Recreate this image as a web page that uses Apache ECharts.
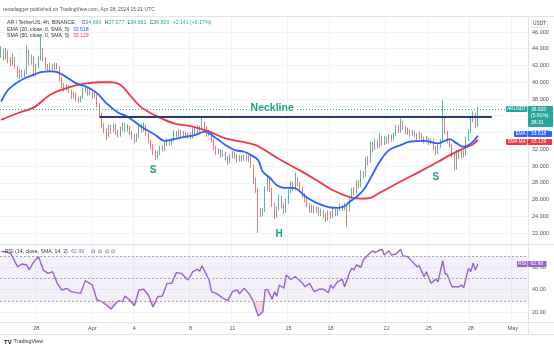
<!DOCTYPE html>
<html><head><meta charset="utf-8">
<script src="https://cdn.jsdelivr.net/npm/echarts@6/dist/echarts.min.js"></script>
<style>html,body{margin:0;padding:0;background:#fff}#c{width:554px;height:349px}</style>
</head><body><div id="c"></div>
<script>
// ---- data ----
const tickIdx  = [15, 39, 57, 81, 99, 123, 141, 165, 183, 201, 219];
const tickText = ['28', 'Apr', '4', '8', '11', '15', '18', '22', '25', '28', 'May'];
const priceTicks = [22, 24, 26, 28, 30, 32, 34, 36, 38, 40, 42, 44, 46];
const rsiTicks = [20, 40, 60];

const opens = [43.2,43.8,42.9,43.6,42.6,42.2,42.8,41.8,40.9,41.3,40.8,41.2,43.6,42.4,42.9,40.8,41.9,42.8,43.8,42.7,
41.9,41.5,42.0,41.6,42.1,41.7,40.4,39.6,39.2,39.5,38.9,38.3,38.6,38.0,37.8,38.2,39.0,39.1,38.6,38.9,
38.3,38.5,37.3,36.2,34.8,34.2,33.6,34.6,34.2,34.8,34.0,33.7,34.4,34.9,34.3,34.6,34.0,33.5,33.1,33.6,
34.8,34.3,34.9,33.8,33.0,32.4,31.6,31.1,31.5,32.2,31.9,32.6,33.0,32.7,33.1,34.0,33.7,34.1,33.6,33.9,
33.5,33.8,33.4,34.2,33.9,34.6,34.4,35.1,34.5,33.8,34.0,33.0,32.1,31.6,31.9,31.3,31.6,31.0,30.5,31.2,
31.5,31.2,30.7,31.1,30.8,31.2,30.9,31.1,30.0,28.2,27.2,24.6,24.3,24.7,27.3,28.2,27.2,25.4,24.0,24.9,
26.2,25.3,24.6,25.7,26.9,27.8,27.3,28.3,27.9,27.3,26.5,26.0,25.4,24.7,25.1,24.6,24.9,24.3,24.6,24.1,
23.8,24.4,24.0,24.6,24.2,24.8,25.2,24.9,25.3,24.6,26.2,27.1,26.8,28.0,27.6,29.2,28.8,30.9,30.5,32.6,
32.1,32.9,32.4,33.4,32.7,33.3,32.9,33.5,33.2,33.8,34.6,34.2,35.1,34.6,34.0,34.3,33.8,34.1,33.7,33.4,
33.8,33.3,33.0,33.3,32.8,33.1,32.2,31.6,32.4,32.9,35.6,34.0,33.0,32.4,31.3,30.9,31.6,31.1,31.7,31.3,
33.2,34.1,35.5,36.2,34.69];
const closes = [43.8,42.9,43.6,42.6,42.2,42.8,41.8,40.9,41.3,40.8,41.2,43.6,42.4,42.9,40.8,41.9,42.8,43.8,42.7,41.9,
41.5,42.0,41.6,42.1,41.7,40.4,39.6,39.2,39.5,38.9,38.3,38.6,38.0,37.8,38.2,39.0,39.1,38.6,38.9,38.3,
38.5,37.3,36.2,34.8,34.2,33.6,34.6,34.2,34.8,34.0,33.7,34.4,34.9,34.3,34.6,34.0,33.5,33.1,33.6,34.8,
34.3,34.9,33.8,33.0,32.4,31.6,31.1,31.5,32.2,31.9,32.6,33.0,32.7,33.1,34.0,33.7,34.1,33.6,33.9,33.5,
33.8,33.4,34.2,33.9,34.6,34.4,35.1,34.5,33.8,34.0,33.0,32.1,31.6,31.9,31.3,31.6,31.0,30.5,31.2,31.5,
31.2,30.7,31.1,30.8,31.2,30.9,31.1,30.0,28.2,27.2,24.6,24.3,24.7,27.3,28.2,27.2,25.4,24.0,24.9,26.2,
25.3,24.6,25.7,26.9,27.8,27.3,28.3,27.9,27.3,26.5,26.0,25.4,24.7,25.1,24.6,24.9,24.3,24.6,24.1,23.8,
24.4,24.0,24.6,24.2,24.8,25.2,24.9,25.3,24.6,26.2,27.1,26.8,28.0,27.6,29.2,28.8,30.9,30.5,32.6,32.1,
32.9,32.4,33.4,32.7,33.3,32.9,33.5,33.2,33.8,34.6,34.2,35.1,34.6,34.0,34.3,33.8,34.1,33.7,33.4,33.8,
33.3,33.0,33.3,32.8,33.1,32.2,31.6,32.4,32.9,35.6,34.0,33.0,32.4,31.3,30.9,31.6,31.1,31.7,31.3,33.2,
34.1,35.5,36.2,34.679,36.82];
const highs = [44.3,44.0,44.1,43.8,43.0,43.4,43.0,42.0,41.6,41.5,41.5,44.4,43.9,43.3,43.1,42.2,43.1,45.4,44.1,43.0,
42.2,42.3,42.2,42.4,42.3,41.9,40.6,39.9,39.8,39.7,39.1,38.9,38.8,38.3,38.4,39.4,39.5,39.3,39.2,39.0,
38.8,38.6,37.5,36.4,35.1,34.5,35.0,34.9,35.1,35.0,34.3,34.7,35.2,35.1,35.0,34.8,34.2,33.8,33.9,35.1,
35.0,35.2,35.0,34.0,33.2,32.6,31.9,31.8,32.4,32.5,32.9,33.3,33.2,33.4,34.3,34.2,34.4,34.3,34.2,34.1,
34.0,34.0,34.5,34.6,34.9,34.8,35.9,35.3,34.7,34.3,34.1,33.2,32.4,32.1,32.0,31.9,31.7,31.2,31.4,31.8,
31.7,31.4,31.3,31.3,31.4,31.4,31.3,31.2,30.2,28.6,27.4,25.0,25.0,27.6,28.9,28.5,27.4,25.6,25.2,26.6,
26.4,25.6,26.1,27.2,28.2,28.1,29.2,28.7,28.1,27.5,26.8,26.2,25.6,25.4,25.3,25.2,25.1,24.9,24.8,24.4,
24.7,24.6,25.0,24.9,25.1,25.5,25.4,25.6,25.4,26.5,27.4,27.5,28.3,28.3,29.5,29.4,31.1,31.2,32.9,32.9,
33.2,33.2,33.9,33.6,33.6,33.5,33.8,33.7,34.0,34.9,34.9,35.7,35.4,34.8,34.6,34.4,34.3,34.2,33.9,34.1,
33.9,33.5,33.6,33.4,33.3,33.2,32.4,32.6,33.2,37.9,35.9,34.2,33.3,32.6,31.6,31.9,31.8,32.0,31.9,33.5,
34.4,35.9,36.5,36.4,37.077];
const lows = [42.9,42.6,42.7,42.3,41.9,42.0,41.6,40.6,40.4,40.5,40.6,41.0,42.0,42.1,40.6,40.7,41.7,42.6,42.5,41.5,
41.2,41.3,41.3,41.4,41.5,40.1,39.3,38.9,39.0,38.7,38.0,38.1,37.7,37.5,37.6,38.0,38.7,38.4,38.4,38.0,
38.1,37.0,35.9,34.5,33.9,33.1,33.4,33.8,34.0,33.7,33.4,33.5,34.2,34.0,34.1,33.7,33.2,32.7,32.9,33.4,
34.0,34.1,33.6,32.7,32.0,31.3,30.7,30.9,31.3,31.7,31.8,32.4,32.4,32.5,32.9,33.4,33.5,33.4,33.4,33.3,
33.2,33.2,33.3,33.7,33.8,34.1,34.3,34.2,33.5,33.6,32.8,31.9,31.3,31.4,31.0,31.1,30.7,30.1,30.3,30.9,
30.9,30.4,30.5,30.5,30.6,30.6,30.5,29.8,27.8,26.8,22.0,23.9,24.0,24.5,27.0,26.9,25.1,23.6,23.8,24.7,
24.9,24.3,24.4,25.5,26.7,27.0,27.1,27.6,27.0,26.2,25.7,25.1,24.4,24.4,24.3,24.4,24.0,24.0,23.8,23.3,
23.5,23.7,23.8,24.0,24.0,24.6,24.6,24.7,22.7,24.5,26.0,26.5,26.7,27.3,27.5,28.5,28.7,30.1,30.4,31.6,
31.9,32.1,32.2,32.4,32.5,32.6,32.7,32.9,33.0,33.6,33.9,34.0,34.3,33.8,33.7,33.5,33.6,33.4,33.1,33.2,
33.0,32.7,32.8,32.5,32.6,31.9,31.3,31.4,32.2,32.8,33.8,32.7,32.2,31.0,29.5,29.6,30.8,30.9,31.0,31.2,
33.0,33.9,35.2,34.5,34.661];

// EMA(20) and SMA(50) at candle indices
const emaIdx = [0,3,7,11,14,17,21,24,28,32,37,41,45,50,54,60,66,70,74,79,83,87,92,96,100,104,107,110,112,115,118,121,125,131,135,140,144,147,149,152,155,158,162,166,171,175,181,187,192,195,198,200,202,204];
const emaVal = [37.7,39.1,40.0,40.6,40.9,41.2,41.3,41.2,40.6,39.9,39.4,38.7,37.5,36.4,35.9,34.7,33.7,33.0,33.2,33.5,33.7,34.1,33.3,32.5,31.9,31.7,31.3,30.7,29.3,28.6,27.7,27.4,27.4,26.2,25.6,25.1,25.0,25.2,25.7,26.3,27.1,28.5,30.5,31.9,32.5,32.9,33.0,32.7,33.2,32.7,32.3,32.5,32.9,33.618];
const smaIdx = [0,7,14,21,28,35,42,47,51,55,60,67,74,82,89,96,103,109,111,121,129,135,142,149,154,158,162,172,179,187,192,198,202,204];
const smaVal = [35.5,36.3,37.0,38.5,39.3,39.8,40.0,40.0,39.7,38.5,37.0,35.9,35.1,34.7,34.1,33.3,32.9,32.5,32.2,30.5,29.3,28.3,27.1,26.3,26.1,26.2,26.8,28.3,29.3,30.5,31.3,32.1,32.6,33.129];

// RSI(14) at candle indices
const rsiIdx = [0,2,4,7,9,11,12,14,16,18,20,22,24,26,28,30,34,36,39,41,43,45,47,50,52,53,55,57,59,61,63,65,67,69,71,73,75,77,80,81,82,84,85,86,89,90,92,95,97,99,101,102,104,106,108,110,112,113,114,116,117,118,119,121,122,124,126,129,130,132,134,136,138,140,141,142,144,146,147,149,150,151,152,154,155,157,159,160,162,163,164,166,167,169,171,172,174,176,178,179,181,182,184,186,187,189,190,191,193,196,197,198,200,201,202,203,204];
const rsiVal = [74,73.8,72.4,60.5,62.9,62,57.6,65,69.4,57.6,54.6,56,45.7,39.8,41.3,38.3,36.8,48.1,44.2,30.9,29.4,26.4,22.9,30,29.4,34.4,30.9,25.8,39.8,40.4,35.3,24.7,33.8,34.4,45.7,45.7,55.2,54.6,48.7,52.2,56.1,58.1,56.4,61.1,48.7,38.3,36.8,32.4,30.3,38.3,39.8,36.3,41.3,36.8,29.4,16.7,20.5,39.8,40.4,31.5,38.3,34.4,44.2,41.3,53.1,49.3,51.6,45.7,42.7,45.7,38.3,40.4,40.4,37.4,44.2,41.3,47.2,49.3,42.7,54.6,59,57.6,62,60,66.4,70.9,74.7,73,75.3,75.9,70.9,74.7,70.9,71.8,75.9,70,69.4,65,60.5,61.1,51.6,56,45.7,49.3,47.2,65.8,54.6,53.1,42.7,42.7,44.2,41.9,59,56.1,63.5,57.6,62.99];

const necklinePrice = 35.9;
const necklineFrom = 42, necklineTo = 210;
const marks = [{t:'Neckline', i:116, p:36.93, size:10.5}, {t:'S', i:65, p:29.5, size:10}, {t:'H', i:119, p:21.8, size:10}, {t:'S', i:186, p:28.7, size:10}];

// ---- build ----
const slots = 226;
const t0 = Date.UTC(2024, 2, 25, 12);
const categories = Array.from({length: slots}, (_, i) => new Date(t0 + i * 4 * 3600e3).toISOString().slice(5, 16));
const candles = opens.map((o, i) => [o, closes[i], lows[i], highs[i]]);
const pairs = (ix, vs) => ix.map((x, k) => [x, vs[k]]);
const rsiPts = pairs(rsiIdx, rsiVal);

const UP = '#26a69a', DN = '#ef5350', FONT = 'Liberation Sans, Arial, sans-serif';
const gridCol = '#f0f3fa', lblCol = '#50535e';
const last = opens.length - 1;
const lastClose = closes[last], prevClose = closes[last - 1];
const chg = lastClose - prevClose;

const chart = echarts.init(document.getElementById('c'), null, {renderer: 'canvas'});
const catAxis = (g, labels) => ({
  type: 'category', gridIndex: g, data: categories, boundaryGap: true,
  axisLine: {show: false}, axisTick: {show: false},
  axisLabel: labels ? {
    show: true, interval: (i) => tickIdx.includes(i),
    formatter: (v, i) => tickText[tickIdx.indexOf(i)] || '',
    fontSize: 5.5, color: lblCol, margin: 3, fontFamily: FONT
  } : {show: false},
  splitLine: {show: true, interval: (i) => tickIdx.includes(i), lineStyle: {color: gridCol, width: 1}}
});
chart.setOption({
  animation: false,
  backgroundColor: '#fff',
  grid: [
    {left: 0, right: 26, top: 16, height: 228},
    {left: 0, right: 26, top: 244, height: 78}
  ],
  xAxis: [catAxis(0, false), catAxis(1, true)],
  yAxis: [
    {type: 'value', gridIndex: 0, position: 'right', min: 20.687, max: 47.91, splitNumber: 13, scale: true,
     axisLine: {show: false}, axisTick: {show: false},
     axisLabel: {fontSize: 5.5, color: lblCol, margin: 4, fontFamily: FONT,
       formatter: (v) => priceTicks.some(t => Math.abs(t - v) < 1e-6) ? v.toFixed(3) : ''},
     splitLine: {show: true, lineStyle: {color: gridCol}}},
    {type: 'value', gridIndex: 1, position: 'right', min: 11.333, max: 80.667, splitNumber: 4,
     axisLine: {show: false}, axisTick: {show: false},
     axisLabel: {fontSize: 5.5, color: lblCol, margin: 4, fontFamily: FONT,
       formatter: (v) => rsiTicks.some(t => Math.abs(t - v) < 1e-6) ? v.toFixed(2) : ''},
     splitLine: {show: true, lineStyle: {color: gridCol}}}
  ],
  series: [
    {type: 'candlestick', xAxisIndex: 0, yAxisIndex: 0, data: candles, barWidth: 1.2,
     itemStyle: {color: UP, color0: DN, borderColor: UP, borderColor0: DN, borderWidth: 0.8},
     markLine: {silent: true, symbol: ['none', 'none'], label: {show: false}, animation: false,
       data: [
         {yAxis: lastClose, lineStyle: {color: UP, type: [1, 2], width: 1}},
         [{coord: [necklineFrom, necklinePrice], lineStyle: {color: '#2b3d6b', width: 2, type: 'solid'}},
          {coord: [necklineTo, necklinePrice]}]
       ]}},
    {type: 'line', xAxisIndex: 0, yAxisIndex: 0, data: pairs(smaIdx, smaVal), smooth: 0.35, showSymbol: false,
     lineStyle: {color: '#f23645', width: 1.8}, z: 3},
    {type: 'line', xAxisIndex: 0, yAxisIndex: 0, data: pairs(emaIdx, emaVal), smooth: 0.35, showSymbol: false,
     lineStyle: {color: '#2962ff', width: 1.8}, z: 4},
    {type: 'line', xAxisIndex: 1, yAxisIndex: 1, data: rsiPts.map(([i, v]) => [i, Math.min(v, 30)]), showSymbol: false,
     lineStyle: {opacity: 0}, areaStyle: {origin: 30, color: 'rgba(242,54,69,0.28)'}, z: 2},
    {type: 'line', xAxisIndex: 1, yAxisIndex: 1, data: rsiPts, showSymbol: false,
     lineStyle: {color: '#9c5fd0', width: 1.4}, z: 3,
     markArea: {silent: true, itemStyle: {color: 'rgba(126,87,194,0.09)'}, data: [[{yAxis: 70}, {yAxis: 30}]]},
     markLine: {silent: true, symbol: ['none', 'none'], label: {show: false},
       lineStyle: {color: '#a3a6af', type: [2, 2], width: 1},
       data: [{yAxis: 70}, {yAxis: 50}, {yAxis: 30}]}}
  ]
});

// ---- overlay texts and price tags, placed through the chart's own scales ----
const px = (i, p) => chart.convertToPixel({gridIndex: 0}, [i, p]);
const yP = (p) => chart.convertToPixel({yAxisIndex: 0}, p);
const yR = (p) => chart.convertToPixel({yAxisIndex: 1}, p);
const T = (x, y, text, o = {}) => ({type: 'text', x, y, silent: true, z: 50,
  style: Object.assign({text, font: (o.weight || 'normal') + ' ' + (o.size || 5.2) + 'px ' + FONT,
    fill: o.fill || lblCol, textAlign: o.align || 'left', textVerticalAlign: 'middle'}, o.style || {})});
const R = (x, y, w, h, fill, o = {}) => ({type: 'rect', silent: true, z: 49, shape: {x, y, width: w, height: h, r: o.r || 0},
  style: Object.assign({fill}, o.style || {})});
const L = (x1, y1, x2, y2, c) => ({type: 'line', silent: true, z: 48, shape: {x1, y1, x2, y2}, style: {stroke: c || '#e0e3eb', lineWidth: 1}});

const g = [];
// frame lines
g.push(L(0, 16.5, 554, 16.5), L(0, 244.5, 554, 244.5), L(0, 322.5, 554, 322.5), L(0, 334.5, 554, 334.5), L(528.5, 16, 528.5, 334.5));
// header & legends
g.push(T(3, 10, 'renadagger published on TradingView.com, Apr 28, 2024 15:21 UTC', {size: 5, fill: '#555'}));
g.push({type: 'text', x: 7, y: 23, silent: true, z: 50, style: {
  text: '{d|AR / TetherUS, 4h, BINANCE}  {d|O}{g|' + opens[last].toFixed(3) + '} {d|H}{g|' + highs[last].toFixed(3) +
        '} {d|L}{g|' + lows[last].toFixed(3) + '} {d|C}{g|' + lastClose.toFixed(3) + '} {g|+' + chg.toFixed(3) +
        ' (+' + (chg / prevClose * 100).toFixed(2) + '%)}',
  textVerticalAlign: 'middle',
  rich: {d: {fontSize: 5.2, fontFamily: FONT, fill: '#333'}, g: {fontSize: 5.2, fontFamily: FONT, fill: UP}}}});
g.push({type: 'text', x: 7, y: 29.5, silent: true, z: 50, style: {
  text: '{d|EMA (20, close, 0, SMA, 5)} {b|' + emaVal[emaVal.length - 1].toFixed(3) + '}', textVerticalAlign: 'middle',
  rich: {d: {fontSize: 5.2, fontFamily: FONT, fill: '#333'}, b: {fontSize: 5.2, fontFamily: FONT, fill: '#2962ff'}}}});
g.push({type: 'text', x: 7, y: 36, silent: true, z: 50, style: {
  text: '{d|SMA (50, close, 0, SMA, 5)} {r|' + smaVal[smaVal.length - 1].toFixed(3) + '}', textVerticalAlign: 'middle',
  rich: {d: {fontSize: 5.2, fontFamily: FONT, fill: '#333'}, r: {fontSize: 5.2, fontFamily: FONT, fill: '#f23645'}}}});
g.push({type: 'text', x: 5, y: 252, silent: true, z: 50, style: {
  text: '{d|RSI (14, close, SMA, 14, 2)} {p|' + rsiVal[rsiVal.length - 1].toFixed(2) + '}  {d|\u2205  \u2205  \u2205  \u2205}', textVerticalAlign: 'middle',
  rich: {d: {fontSize: 5.2, fontFamily: FONT, fill: '#333'}, p: {fontSize: 5.2, fontFamily: FONT, fill: '#9c5fd0'}}}});
// USDT label
g.push(R(531.5, 20.5, 16, 7, '#fff', {style: {stroke: '#d1d4dc', lineWidth: 0.6}, r: 1}));
g.push(T(539.5, 24, 'USDT', {size: 4.8, align: 'center', fill: '#444'}));
// current price tag
const yc = yP(lastClose);
g.push(R(506, yc - 2.8, 21.5, 6, UP, {r: 1}), T(516.7, yc + 0.2, 'ARUSDT', {size: 4.6, align: 'center', fill: '#fff'}));
g.push(R(528, yc - 2.8, 25, 21, UP, {r: 1}));
g.push(T(531, yc + 0.3, lastClose.toFixed(3), {size: 5, fill: '#fff'}));
g.push(T(531, yc + 6.8, '(5.91%)', {size: 5, fill: '#fff'}));
g.push(T(531, yc + 13.5, '38:31', {size: 5, fill: '#fff'}));
// EMA / SMA tags
const ye = yP(emaVal[emaVal.length - 1]) - 1.8, ys = yP(smaVal[smaVal.length - 1]) + 2.2;
g.push(R(514, ye - 3, 13.5, 6, '#2962ff', {r: 1}), T(520.7, ye, 'EMA', {size: 4.6, align: 'center', fill: '#fff'}));
g.push(R(528, ye - 3, 24, 6, '#2962ff', {r: 1}), T(531, ye, emaVal[emaVal.length - 1].toFixed(3), {size: 5, fill: '#fff'}));
g.push(R(506, ys - 3, 21.5, 6, '#f23645', {r: 1}), T(516.7, ys, 'SMA MA', {size: 4.6, align: 'center', fill: '#fff'}));
g.push(R(528, ys - 3, 24, 6, '#f23645', {r: 1}), T(531, ys, smaVal[smaVal.length - 1].toFixed(3), {size: 5, fill: '#fff'}));
// RSI tag
const yr = yR(rsiVal[rsiVal.length - 1]);
g.push(R(517, yr - 2.8, 10.5, 6, '#9c5fd0', {r: 1}), T(522.2, yr + 0.2, 'RSI', {size: 4.6, align: 'center', fill: '#fff'}));
g.push(R(528, yr - 2.8, 18.5, 6, '#9c5fd0', {r: 1}), T(530.5, yr + 0.2, rsiVal[rsiVal.length - 1].toFixed(2), {size: 5, fill: '#fff'}));
// pattern annotations
marks.forEach(m => {
  const [x, y] = px(m.i, m.p);
  g.push(T(x, y, m.t, {size: m.size, weight: 'bold', align: 'center', fill: '#1f9e88',
    style: m.t === 'Neckline' ? {backgroundColor: '#fff', padding: [0, 1]} : {}}));
});
// TradingView logo
g.push(T(4, 342, 'TV', {size: 6, weight: 'bold', fill: '#131722'}));
g.push(T(13.5, 342, 'TradingView', {size: 5.4, fill: '#333'}));
chart.setOption({graphic: g});
</script>
</body></html>
